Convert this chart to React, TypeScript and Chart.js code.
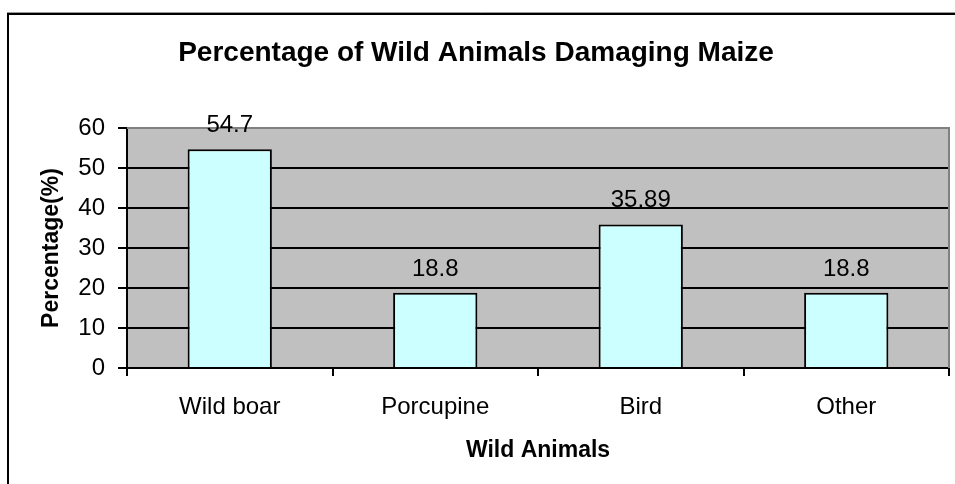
import React, { useEffect, useRef } from 'react';
import { Chart, registerables } from 'chart.js';

Chart.register(...registerables);

const categories = ['Wild boar', 'Porcupine', 'Bird', 'Other'];
const values = [54.7, 18.8, 35.89, 18.8];
const valueLabels = ['54.7', '18.8', '35.89', '18.8'];
const yMin = 0;
const yMax = 60;
const yStep = 10;
const chartTitle = 'Percentage of Wild Animals Damaging Maize';
const xTitle = 'Wild Animals';
const yTitle = 'Percentage(%)';

const FONT = '"Liberation Sans", Arial, Helvetica, sans-serif';

const decorPlugin = {
  id: 'decor',
  beforeDraw(chart: any) {
    const { ctx, chartArea: a, width, height } = chart;
    ctx.save();
    ctx.fillStyle = '#ffffff';
    ctx.fillRect(0, 0, width, height);
    ctx.fillStyle = '#C0C0C0';
    ctx.fillRect(a.left, a.top, a.right - a.left, a.bottom - a.top);
    ctx.restore();
  },
  afterDraw(chart: any) {
    const { ctx, chartArea: a } = chart;
    ctx.save();
    // plot-area gray border (top and right)
    ctx.strokeStyle = '#808080';
    ctx.lineWidth = 2;
    ctx.beginPath();
    ctx.moveTo(a.left, a.top);
    ctx.lineTo(a.right, a.top);
    ctx.lineTo(a.right, a.bottom);
    ctx.stroke();

    // outer chart border
    ctx.strokeStyle = '#999999';
    ctx.lineWidth = 1;
    ctx.beginPath();
    ctx.moveTo(7, 12.5);
    ctx.lineTo(1000, 12.5);
    ctx.stroke();
    ctx.strokeStyle = '#000000';
    ctx.lineWidth = 2;
    ctx.beginPath();
    ctx.moveTo(8, 1000);
    ctx.lineTo(8, 14);
    ctx.lineTo(1000, 14);
    ctx.stroke();

    // data labels
    ctx.fillStyle = '#000000';
    ctx.font = `24px ${FONT}`;
    ctx.textAlign = 'center';
    ctx.textBaseline = 'alphabetic';
    const meta = chart.getDatasetMeta(0);
    meta.data.forEach((bar: any, i: number) => {
      ctx.fillText(valueLabels[i], bar.x, bar.y - 17);
    });

    // chart title
    ctx.font = `bold 28px ${FONT}`;
    ctx.fillText(chartTitle, 476, 61);

    // x axis title
    ctx.font = `bold 23px ${FONT}`;
    ctx.fillText(xTitle, (a.left + a.right) / 2, 457);

    // y axis title
    ctx.translate(52, (a.top + a.bottom) / 2);
    ctx.rotate(-Math.PI / 2);
    ctx.textBaseline = 'middle';
    ctx.fillText(yTitle, 0, 0);
    ctx.restore();
  },
};

export default function App() {
  const ref = useRef<HTMLCanvasElement | null>(null);
  useEffect(() => {
    if (!ref.current) return;
    const chart = new Chart(ref.current, {
      type: 'bar',
      data: {
        labels: categories,
        datasets: [
          {
            data: values,
            backgroundColor: '#CCFFFF',
            borderColor: '#000000',
            borderWidth: 2,
            categoryPercentage: 1,
            barPercentage: 0.41,
          },
        ],
      },
      options: {
        responsive: false,
        animation: false,
        layout: { padding: { top: 128, right: 6, bottom: 0, left: 0 } },
        plugins: {
          legend: { display: false },
          title: { display: false },
          tooltip: { enabled: false },
        },
        scales: {
          x: {
            afterFit: (s: any) => {
              s.height = 116;
            },
            grid: {
              display: true,
              drawOnChartArea: false,
              offset: true,
              color: '#000000',
              lineWidth: 2,
              tickLength: 8,
            },
            border: { display: true, color: '#000000', width: 2 },
            ticks: {
              color: '#000000',
              font: { family: FONT, size: 24 },
              padding: 17,
              maxRotation: 0,
            },
          },
          y: {
            min: yMin,
            max: yMax,
            afterFit: (s: any) => {
              s.width = 127;
            },
            grid: {
              color: (c: any) => (c.tick && c.tick.value === yMax ? 'rgba(0,0,0,0)' : '#000000'),
              tickColor: '#000000',
              lineWidth: 2,
              tickLength: 9,
            },
            border: { display: true, color: '#000000', width: 2 },
            ticks: {
              stepSize: yStep,
              color: '#000000',
              font: { family: FONT, size: 24 },
              padding: 13,
            },
          },
        },
      },
      plugins: [decorPlugin],
    });
    return () => chart.destroy();
  }, []);
  return (
    <div style={{ position: 'absolute', left: 0, top: 0, width: 955, height: 484 }}>
      <canvas ref={ref} width={955} height={484} style={{ display: 'block' }} />
    </div>
  );
}
